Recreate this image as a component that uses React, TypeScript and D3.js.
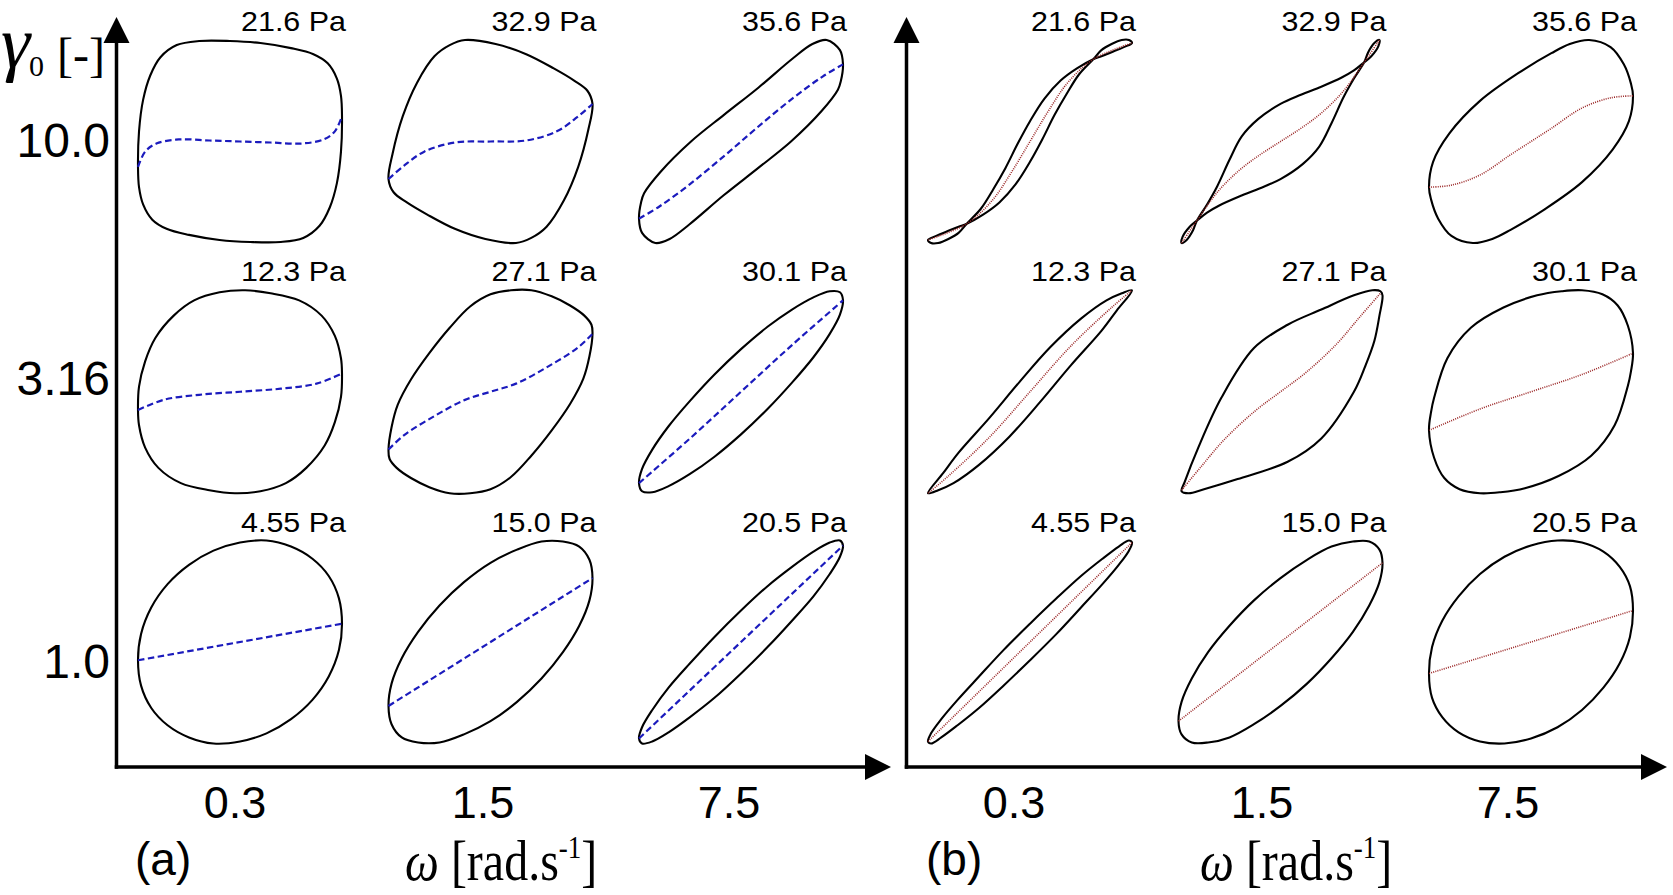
import React from "react";
import * as d3 from "d3";

// ---------------- data ----------------
const omegaLabels = ["0.3", "1.5", "7.5"];
const gammaLabels = ["10.0", "3.16", "1.0"];
const stressRow10 = ["21.6 Pa", "32.9 Pa", "35.6 Pa"];
const stressRow316 = ["12.3 Pa", "27.1 Pa", "30.1 Pa"];
const stressRow1 = ["4.55 Pa", "15.0 Pa", "20.5 Pa"];

// Elastic Lissajous loops (panel a): normalised strain (x), stress (y), flat x,y pairs
const eLoop_10_03 = [-1.0,-0.25, -0.99,0.1, -0.95,0.41, -0.88,0.65, -0.78,0.83, -0.62,0.95, -0.4,0.99, -0.1,0.99, 0.2,0.97, 0.5,0.92, 0.72,0.86, 0.86,0.77, 0.95,0.62, 0.99,0.45, 1.0,0.25, 0.99,-0.1, 0.95,-0.41, 0.88,-0.65, 0.78,-0.83, 0.62,-0.95, 0.4,-0.99, 0.1,-0.99, -0.2,-0.97, -0.5,-0.92, -0.72,-0.86, -0.86,-0.77, -0.95,-0.62, -0.99,-0.45];
const eLoop_10_15 = [-1.0,-0.37, -0.96,-0.12, -0.86,0.25, -0.72,0.58, -0.55,0.84, -0.4,0.95, -0.25,1.0, 0.05,0.96, 0.35,0.86, 0.62,0.72, 0.82,0.6, 0.95,0.5, 1.0,0.37, 0.96,0.12, 0.86,-0.25, 0.72,-0.58, 0.55,-0.84, 0.4,-0.95, 0.25,-1.0, -0.05,-0.96, -0.35,-0.86, -0.62,-0.72, -0.82,-0.6, -0.95,-0.5];
const eLoop_10_75 = [-1.0,-0.76, -0.98,-0.6, -0.95,-0.51, -0.79,-0.3, -0.49,0.0, -0.17,0.26, 0.17,0.53, 0.51,0.82, 0.7,0.96, 0.84,1.0, 0.97,0.9, 1.0,0.76, 0.98,0.6, 0.95,0.51, 0.79,0.3, 0.49,0.0, 0.17,-0.26, -0.17,-0.53, -0.51,-0.82, -0.7,-0.96, -0.84,-1.0, -0.97,-0.9];
const eLoop_316_03 = [-1,-0.18, -0.99,0.05, -0.93,0.3, -0.83,0.53, -0.65,0.75, -0.45,0.9, -0.2,0.98, 0.05,1.0, 0.3,0.97, 0.58,0.9, 0.8,0.75, 0.93,0.55, 0.99,0.33, 1,0.18, 0.99,-0.05, 0.93,-0.3, 0.83,-0.53, 0.65,-0.75, 0.45,-0.9, 0.2,-0.98, -0.05,-1.0, -0.3,-0.97, -0.58,-0.9, -0.8,-0.75, -0.93,-0.55, -0.99,-0.33];
const eLoop_316_15 = [-1,-0.57, -0.97,-0.35, -0.91,-0.13, -0.78,0.12, -0.6,0.38, -0.4,0.63, -0.2,0.84, 0,0.96, 0.2,1.0, 0.4,1.0, 0.6,0.94, 0.78,0.85, 0.92,0.75, 0.99,0.66, 1,0.57, 0.97,0.35, 0.91,0.13, 0.78,-0.12, 0.6,-0.38, 0.4,-0.63, 0.2,-0.84, 0,-0.96, -0.2,-1.0, -0.4,-1.0, -0.6,-0.94, -0.78,-0.85, -0.92,-0.75, -0.99,-0.66];
const eLoop_316_75 = [0,0.42, 0.26,0.64, 0.5,0.81, 0.71,0.93, 0.87,0.99, 0.97,0.98, 1,0.9, 0.97,0.76, 0.87,0.57, 0.71,0.34, 0.5,0.09, 0.26,-0.17, 0,-0.42, -0.26,-0.64, -0.5,-0.81, -0.71,-0.93, -0.87,-0.99, -0.97,-0.98, -1,-0.9, -0.97,-0.76, -0.87,-0.57, -0.71,-0.34, -0.5,-0.09, -0.26,0.17];
const eLoop_1_03 = [0,0.98, 0.26,1.0, 0.5,0.94, 0.71,0.82, 0.87,0.65, 0.97,0.43, 1,0.18, 0.97,-0.08, 0.87,-0.34, 0.71,-0.57, 0.5,-0.76, 0.26,-0.9, 0,-0.98, -0.26,-1.0, -0.5,-0.94, -0.71,-0.82, -0.87,-0.65, -0.97,-0.43, -1,-0.18, -0.97,0.08, -0.87,0.34, -0.71,0.57, -0.5,0.76, -0.26,0.9];
const eLoop_1_15 = [0,0.78, 0.26,0.91, 0.5,0.99, 0.71,0.99, 0.87,0.94, 0.97,0.81, 1,0.63, 0.97,0.41, 0.87,0.16, 0.71,-0.1, 0.5,-0.36, 0.26,-0.59, 0,-0.78, -0.26,-0.91, -0.5,-0.99, -0.71,-0.99, -0.87,-0.94, -0.97,-0.81, -1,-0.63, -0.97,-0.41, -0.87,-0.16, -0.71,0.1, -0.5,0.36, -0.26,0.59];
const eLoop_1_75 = [0,0.31, 0.26,0.55, 0.5,0.74, 0.71,0.89, 0.87,0.98, 0.97,1.0, 1,0.95, 0.97,0.84, 0.87,0.67, 0.71,0.45, 0.5,0.21, 0.26,-0.05, 0,-0.31, -0.26,-0.55, -0.5,-0.74, -0.71,-0.89, -0.87,-0.98, -0.97,-1.0, -1,-0.95, -0.97,-0.84, -0.87,-0.67, -0.71,-0.45, -0.5,-0.21, -0.26,0.05];

// Elastic stress curves (blue dashed)
const eLine_10_03 = [-1,-0.25, -0.93,-0.1, -0.82,-0.02, -0.6,0.02, -0.3,0.01, 0,0, 0.3,-0.01, 0.6,-0.02, 0.82,0.02, 0.93,0.1, 1,0.25];
const eLine_10_15 = [-1,-0.37, -0.85,-0.24, -0.65,-0.1, -0.35,-0.01, 0,0, 0.35,0.01, 0.65,0.1, 0.85,0.24, 1,0.37];
const eLine_10_75 = [-1,-0.76, -0.8,-0.64, -0.5,-0.42, -0.15,-0.13, 0.15,0.13, 0.5,0.42, 0.8,0.64, 1,0.76];
const eLine_316_03 = [-1,-0.18, -0.75,-0.08, -0.4,-0.03, 0,0, 0.4,0.03, 0.75,0.08, 1,0.18];
const eLine_316_15 = [-1,-0.57, -0.85,-0.43, -0.55,-0.24, -0.25,-0.08, 0,0, 0.25,0.08, 0.55,0.24, 0.85,0.43, 1,0.57];
const eLine_316_75 = [-1,-0.9, -0.5,-0.46, 0,0, 0.5,0.46, 1,0.9];
const eLine_1_03 = [-1,-0.18, 1,0.18];
const eLine_1_15 = [-1,-0.63, 1,0.63];
const eLine_1_75 = [-1,-0.95, 1,0.95];

// Viscous Lissajous loops (panel b): normalised strain rate (x), stress (y)
const vLoop_10_03 = [-1,-0.97, -0.92,-0.93, -0.8,-0.88, -0.7,-0.84, -0.62,-0.81, -0.46,-0.72, -0.3,-0.6, -0.14,-0.42, 0,-0.2, 0.12,0.02, 0.24,0.26, 0.36,0.47, 0.48,0.66, 0.62,0.81, 0.7,0.9, 0.8,0.96, 0.9,1.0, 0.97,1.0, 1,0.97, 0.92,0.93, 0.8,0.88, 0.7,0.84, 0.62,0.81, 0.46,0.72, 0.3,0.6, 0.14,0.42, 0,0.2, -0.12,-0.02, -0.24,-0.26, -0.36,-0.47, -0.48,-0.66, -0.62,-0.81, -0.7,-0.9, -0.8,-0.96, -0.9,-1.0, -0.97,-1.0];
const vLoop_10_15 = [-0.97,-1.0, -0.96,-0.94, -0.89,-0.84, -0.82,-0.78, -0.72,-0.7, -0.6,-0.63, -0.4,-0.54, -0.2,-0.46, 0,-0.37, 0.22,-0.22, 0.38,-0.05, 0.5,0.18, 0.62,0.44, 0.72,0.62, 0.82,0.78, 0.86,0.88, 0.92,0.97, 0.97,1.0, 0.96,0.94, 0.89,0.84, 0.82,0.78, 0.72,0.7, 0.6,0.63, 0.4,0.54, 0.2,0.46, 0,0.37, -0.22,0.22, -0.38,0.05, -0.5,-0.18, -0.62,-0.44, -0.72,-0.62, -0.82,-0.78, -0.86,-0.88, -0.92,-0.97];
const vLoop_10_75 = [-1,-0.45, -0.96,-0.2, -0.8,0.08, -0.5,0.4, -0.13,0.67, 0.2,0.87, 0.38,0.96, 0.57,1.0, 0.78,0.93, 0.91,0.76, 0.98,0.57, 1,0.45, 0.96,0.2, 0.8,-0.08, 0.5,-0.4, 0.13,-0.67, -0.2,-0.87, -0.38,-0.96, -0.57,-1.0, -0.78,-0.93, -0.91,-0.76, -0.98,-0.57];
const vLoop_316_03 = [-1,-1.0, -0.85,-0.8, -0.7,-0.6, -0.4,-0.26, -0.1,0.1, 0.2,0.44, 0.5,0.72, 0.75,0.9, 0.9,0.97, 1,1.0, 0.85,0.8, 0.7,0.6, 0.4,0.26, 0.1,-0.1, -0.2,-0.44, -0.5,-0.72, -0.75,-0.9, -0.9,-0.97];
const vLoop_316_15 = [-0.97,-0.98, -0.94,-0.89, -0.81,-0.56, -0.58,-0.06, -0.26,0.43, 0.07,0.66, 0.4,0.81, 0.72,0.95, 0.9,1.0, 0.98,0.99, 1.0,0.95, 0.97,0.75, 0.92,0.5, 0.83,0.25, 0.72,0.0, 0.4,-0.46, 0.07,-0.69, -0.42,-0.86, -0.75,-0.96, -0.9,-1.0];
const vLoop_316_75 = [-1,-0.38, -0.98,-0.2, -0.95,-0.06, -0.82,0.33, -0.59,0.63, -0.27,0.83, 0.06,0.95, 0.3,0.99, 0.5,1.0, 0.7,0.96, 0.85,0.85, 0.95,0.65, 1,0.38, 0.98,0.2, 0.95,0.06, 0.82,-0.33, 0.59,-0.63, 0.27,-0.83, -0.06,-0.95, -0.3,-0.99, -0.5,-1.0, -0.7,-0.96, -0.85,-0.85, -0.95,-0.65];
const vLoop_1_03 = [1,0.98, 0.97,1.0, 0.87,0.94, 0.71,0.82, 0.5,0.65, 0.26,0.43, 0,0.18, -0.26,-0.08, -0.5,-0.34, -0.71,-0.57, -0.87,-0.76, -0.97,-0.9, -1,-0.98, -0.97,-1.0, -0.87,-0.94, -0.71,-0.82, -0.5,-0.65, -0.26,-0.43, 0,-0.18, 0.26,0.08, 0.5,0.34, 0.71,0.57, 0.87,0.76, 0.97,0.9];
const vLoop_1_15 = [1,0.78, 0.97,0.91, 0.87,0.99, 0.71,0.99, 0.5,0.94, 0.26,0.81, 0,0.63, -0.26,0.41, -0.5,0.16, -0.71,-0.1, -0.87,-0.36, -0.97,-0.59, -1,-0.78, -0.97,-0.91, -0.87,-0.99, -0.71,-0.99, -0.5,-0.94, -0.26,-0.81, 0,-0.63, 0.26,-0.41, 0.5,-0.16, 0.71,0.1, 0.87,0.36, 0.97,0.59];
const vLoop_1_75 = [1,0.31, 0.97,0.55, 0.87,0.74, 0.71,0.89, 0.5,0.98, 0.26,1.0, 0,0.95, -0.26,0.84, -0.5,0.67, -0.71,0.45, -0.87,0.21, -0.97,-0.05, -1,-0.31, -0.97,-0.55, -0.87,-0.74, -0.71,-0.89, -0.5,-0.98, -0.26,-1.0, 0,-0.95, 0.26,-0.84, 0.5,-0.67, 0.71,-0.45, 0.87,-0.21, 0.97,0.05];

// Viscous stress curves (red dotted)
const vLine_10_03 = [-1,-0.97, -0.62,-0.81, -0.37,-0.58, -0.18,-0.3, 0,0, 0.18,0.3, 0.37,0.58, 0.62,0.81, 1,0.97];
const vLine_10_15 = [-0.97,-1.0, -0.82,-0.78, -0.62,-0.5, -0.4,-0.28, -0.2,-0.13, 0,0, 0.2,0.13, 0.4,0.28, 0.62,0.5, 0.82,0.78, 0.97,1.0];
const vLine_10_75 = [-1,-0.45, -0.78,-0.43, -0.5,-0.33, -0.2,-0.13, 0,0, 0.2,0.13, 0.5,0.33, 0.78,0.43, 1,0.45];
const vLine_316_03 = [-1,-1, -0.8,-0.83, -0.4,-0.45, 0,0, 0.4,0.45, 0.8,0.83, 1,1];
const vLine_316_15 = [-0.97,-0.97, -0.78,-0.74, -0.55,-0.47, -0.25,-0.19, 0,0, 0.25,0.19, 0.55,0.47, 0.78,0.74, 0.98,0.97];
const vLine_316_75 = [-1,-0.38, -0.5,-0.17, 0,0, 0.5,0.17, 1,0.38];
const vLine_1_03 = [-1,-0.98, 1,0.98];
const vLine_1_15 = [-1,-0.78, 1,0.78];
const vLine_1_75 = [-1,-0.31, 1,0.31];

// grids built from the arrays above (row = gamma, col = omega)
const stressLabels = [stressRow10, stressRow316, stressRow1];
const elasticLoops = [[eLoop_10_03, eLoop_10_15, eLoop_10_75], [eLoop_316_03, eLoop_316_15, eLoop_316_75], [eLoop_1_03, eLoop_1_15, eLoop_1_75]];
const elasticLines = [[eLine_10_03, eLine_10_15, eLine_10_75], [eLine_316_03, eLine_316_15, eLine_316_75], [eLine_1_03, eLine_1_15, eLine_1_75]];
const viscousLoops = [[vLoop_10_03, vLoop_10_15, vLoop_10_75], [vLoop_316_03, vLoop_316_15, vLoop_316_75], [vLoop_1_03, vLoop_1_15, vLoop_1_75]];
const viscousLines = [[vLine_10_03, vLine_10_15, vLine_10_75], [vLine_316_03, vLine_316_15, vLine_316_75], [vLine_1_03, vLine_1_15, vLine_1_75]];

// ---------------- layout ----------------
const W = 1673;
const H = 895;
const PANEL_OFFSET = 790;
const SANS = "'Liberation Sans', Arial, Helvetica, sans-serif";
const SERIF = "'Liberation Serif', 'Times New Roman', serif";
const HALF_W = 102;
const HALF_H = 101.5;
const AXIS_X = 116.5;
const AXIS_Y = 767;
const AXIS_TOP = 17;
const AXIS_ENDS = [891, 1667];
const xTickCenters = [235, 483, 729];
const TEXT_OFFSET_B = 779;
const omegaTitleX = [405, 1200];
const yTickBaselines = [157, 395, 678];

const colScale = d3.scalePoint<string>().domain(omegaLabels).range([240, 741]);
const rowScale = d3.scalePoint<string>().domain(gammaLabels).range([141.5, 642]);

type P = [number, number];
const pairs = (flat: number[]): P[] =>
  d3.range(0, flat.length, 2).map((i) => [flat[i], flat[i + 1]] as P);

function Cell({ panel, r, c }: { panel: number; r: number; c: number }) {
  const cx = (colScale(omegaLabels[c]) as number) + panel * PANEL_OFFSET;
  const cy = rowScale(gammaLabels[r]) as number;
  const x = d3.scaleLinear().domain([-1, 1]).range([cx - HALF_W, cx + HALF_W]);
  const y = d3.scaleLinear().domain([-1, 1]).range([cy + HALF_H, cy - HALF_H]);
  const loopGen = d3
    .line<P>()
    .x((d) => x(d[0]))
    .y((d) => y(d[1]))
    .curve(d3.curveCatmullRomClosed.alpha(0.5));
  const lineGen = d3
    .line<P>()
    .x((d) => x(d[0]))
    .y((d) => y(d[1]))
    .curve(d3.curveCatmullRom.alpha(0.5));
  const loop = panel === 0 ? elasticLoops[r][c] : viscousLoops[r][c];
  const mid = panel === 0 ? elasticLines[r][c] : viscousLines[r][c];
  return (
    <g>
      <path d={loopGen(pairs(loop)) || ""} fill="none" stroke="#000" strokeWidth={2.1} strokeLinejoin="round" />
      {panel === 0 ? (
        <path d={lineGen(pairs(mid)) || ""} fill="none" stroke="#1b1bbd" strokeWidth={2.2} strokeDasharray="6.5 3.5" />
      ) : (
        <path d={lineGen(pairs(mid)) || ""} fill="none" stroke="#9a2626" strokeWidth={1.6} strokeDasharray="1 1.2" />
      )}
      <text
        x={cx + HALF_W + 4}
        y={cy - HALF_H - 9}
        fontFamily={SANS}
        fontSize={28}
        textAnchor="end"
        textLength={105}
        lengthAdjust="spacingAndGlyphs"
        fill="#000"
      >
        {stressLabels[r][c]}
      </text>
    </g>
  );
}

function Panel({ panel }: { panel: number }) {
  const dx = panel * PANEL_OFFSET;
  const tx = panel * TEXT_OFFSET_B;
  const end = AXIS_ENDS[panel];
  const cells: React.ReactNode[] = [];
  gammaLabels.forEach((_, r) =>
    omegaLabels.forEach((_, c) => cells.push(<Cell key={`${r}-${c}`} panel={panel} r={r} c={c} />))
  );
  return (
    <g>
      {/* axes */}
      <line x1={AXIS_X + dx} y1={AXIS_Y + 1.75} x2={AXIS_X + dx} y2={AXIS_TOP + 20} stroke="#000" strokeWidth={3.5} />
      <polygon
        points={`${AXIS_X + dx - 13},${AXIS_TOP + 26} ${AXIS_X + dx + 13},${AXIS_TOP + 26} ${AXIS_X + dx},${AXIS_TOP}`}
        fill="#000"
      />
      <line x1={AXIS_X + dx - 1.75} y1={AXIS_Y} x2={end - 20} y2={AXIS_Y} stroke="#000" strokeWidth={3.5} />
      <polygon points={`${end - 26},${AXIS_Y - 13} ${end - 26},${AXIS_Y + 13} ${end},${AXIS_Y}`} fill="#000" />
      {cells}
      {/* x tick labels */}
      {omegaLabels.map((l, i) => (
        <text key={l} x={xTickCenters[i] + tx} y={818} fontFamily={SANS} fontSize={45} textAnchor="middle" fill="#000">
          {l}
        </text>
      ))}
      {/* panel letter */}
      <text x={135 + panel * 791} y={875} fontFamily={SANS} fontSize={46} fill="#000">
        {panel === 0 ? "(a)" : "(b)"}
      </text>
      {/* x axis title */}
      <g transform={`translate(${omegaTitleX[panel]},880) scale(1,1.18)`}>
        <text x={0} y={0} fontFamily={SERIF} fontSize={48} fill="#000">
          <tspan fontStyle="italic">ω</tspan>
          <tspan> [rad.s</tspan>
          <tspan fontSize={27} dy={-19}>-1</tspan>
          <tspan dy={19}>]</tspan>
        </text>
      </g>
    </g>
  );
}

export default function App() {
  return (
    <svg
      width={W}
      height={H}
      viewBox={`0 0 ${W} ${H}`}
      style={{ position: "absolute", left: 0, top: 0, background: "#fff", display: "block" }}
    >
      <rect x={0} y={0} width={W} height={H} fill="#fff" />
      <Panel panel={0} />
      <Panel panel={1} />
      {/* y tick labels (gamma_0) */}
      {gammaLabels.map((l, i) => (
        <text key={l} x={110} y={yTickBaselines[i]} fontFamily={SANS} fontSize={48} textAnchor="end" fill="#000">
          {l}
        </text>
      ))}
      {/* y axis title */}
      <text x={1} y={67} fontFamily={SERIF} fontStyle="italic" fontSize={74} fill="#000">
        γ
      </text>
      <text x={29} y={76} fontFamily={SERIF} fontSize={30} fill="#000">
        0
      </text>
      <text x={57} y={71} fontFamily={SERIF} fontSize={48} fill="#000">
        [-]
      </text>
    </svg>
  );
}
